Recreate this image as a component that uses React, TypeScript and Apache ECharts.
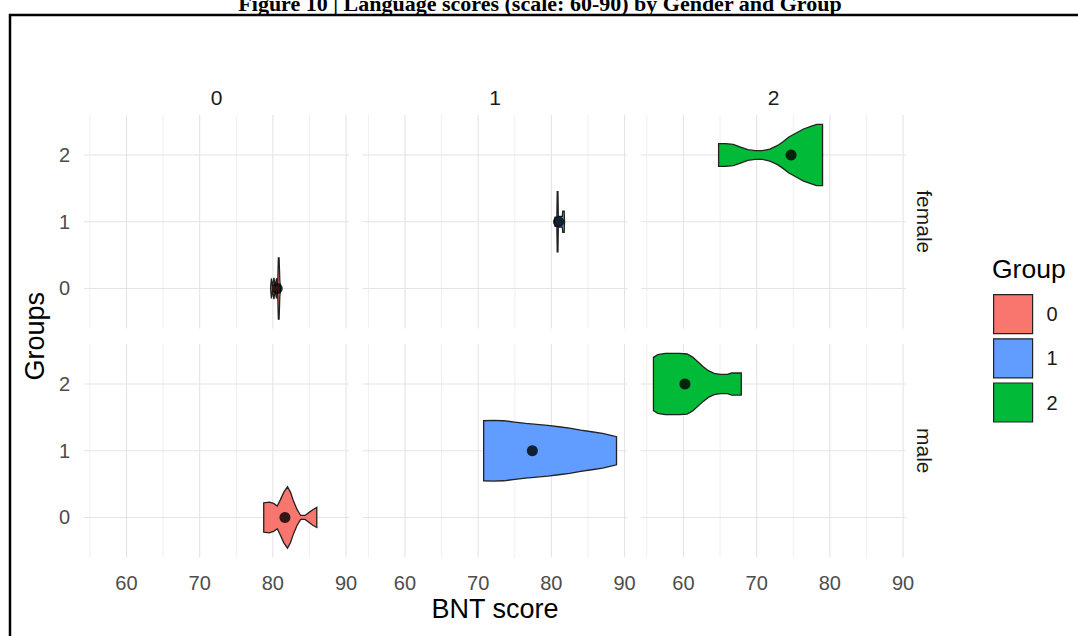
import { useEffect, useRef } from "react";
import * as echarts from "echarts";

// Facet levels and fill colours (ggplot hue palette)
const GROUPS = ["0", "1", "2"];
const SEXES = ["female", "male"];
const GROUP_COLORS = ["#F8766D", "#619CFF", "#00BA38"];

// Axis ticks
const X_TICKS = [60, 70, 80, 90];
const X_MINOR = [55, 65, 75, 85];
const Y_TICKS = [0, 1, 2];
const X_RANGE = [54.2, 90.4];
const Y_RANGE = [-0.6, 2.6];

// Violin outlines: [BNT score, half width in group units]
const femaleG0 = [
  [79.7, 0.02], [79.8, 0.15], [79.95, 0.03], [80.15, 0.16], [80.3, 0.03],
  [80.5, 0.15], [80.65, 0.04], [80.75, 0.46], [80.85, 0.46], [80.95, 0.12], [81.05, 0.0],
];
const femaleG1 = [
  [80.4, 0.02], [80.5, 0.07], [80.75, 0.07], [80.8, 0.45], [80.9, 0.45],
  [80.95, 0.08], [81.5, 0.08], [81.55, 0.16], [81.75, 0.16], [81.8, 0.0],
];
const femaleG2 = [
  [64.8, 0.17], [65.8, 0.17], [66.8, 0.16], [67.8, 0.12], [68.8, 0.08], [69.8, 0.065],
  [70.8, 0.065], [71.8, 0.09], [72.8, 0.14], [73.6, 0.2], [74.4, 0.27], [75.4, 0.33],
  [76.4, 0.39], [77.4, 0.43], [78.2, 0.46], [79.0, 0.46],
];
const maleG0 = [
  [78.75, 0.22], [79.5, 0.23], [80.1, 0.21], [80.6, 0.17], [81.0, 0.26], [81.5, 0.38],
  [82.0, 0.46], [82.4, 0.38], [82.8, 0.25], [83.3, 0.12], [83.8, 0.03], [84.4, 0.03],
  [85.0, 0.08], [85.5, 0.12], [86.0, 0.15],
];
const maleG1 = [
  [70.75, 0.45], [72, 0.455], [73.5, 0.45], [75, 0.43], [76.5, 0.41], [78, 0.395],
  [79.5, 0.38], [81, 0.36], [82.5, 0.34], [84, 0.31], [85.5, 0.285], [87, 0.26],
  [88, 0.235], [88.9, 0.21],
];
const maleG2 = [
  [55.9, 0.4], [56.5, 0.44], [57.5, 0.46], [58.5, 0.46], [59.5, 0.46], [60.5, 0.45],
  [61.3, 0.4], [62.0, 0.33], [62.7, 0.26], [63.4, 0.2], [64.2, 0.16], [65.0, 0.145],
  [66.0, 0.145], [66.6, 0.165], [67.9, 0.165],
];

// Group means of BNT score
const femaleMeans = [80.6, 81.0, 74.7];
const maleMeans = [81.65, 77.4, 60.2];

const PROFILES = [
  [femaleG0, femaleG1, femaleG2],
  [maleG0, maleG1, maleG2],
];
const MEANS = [femaleMeans, maleMeans];

const SANS = '"Liberation Sans", Arial, sans-serif';
const SERIF = '"Liberation Serif", "Times New Roman", serif';

// Panel layout (pixels)
const PANEL_LEFT = [84, 362.5, 641];
const PANEL_TOP = [115, 344];
const PANEL_W = 265;
const PANEL_H = 213.5;

function buildOption() {
  const grid: any[] = [];
  const xAxis: any[] = [];
  const yAxis: any[] = [];
  const series: any[] = [];

  SEXES.forEach((_, r) => {
    GROUPS.forEach((_, c) => {
      const idx = r * 3 + c;
      grid.push({ left: PANEL_LEFT[c], top: PANEL_TOP[r], width: PANEL_W, height: PANEL_H });
      xAxis.push({
        gridIndex: idx,
        type: "value",
        min: X_RANGE[0],
        max: X_RANGE[1],
        axisLine: { show: false },
        axisTick: { show: false },
        splitLine: { show: false },
        axisLabel: {
          show: r === 1,
          customValues: X_TICKS,
          margin: 15,
          fontSize: 20,
          color: "#4D4D4D",
          fontFamily: SANS,
        },
      });
      yAxis.push({
        gridIndex: idx,
        type: "value",
        min: Y_RANGE[0],
        max: Y_RANGE[1],
        axisLine: { show: false },
        axisTick: { show: false },
        splitLine: { show: false },
        axisLabel: {
          show: c === 0,
          customValues: Y_TICKS,
          margin: 14,
          fontSize: 20,
          color: "#4D4D4D",
          fontFamily: SANS,
        },
      });

      // panel grid lines
      const gridData = [
        ...X_MINOR.map((v) => [v, 0]),
        ...X_TICKS.map((v) => [v, 1]),
        ...Y_TICKS.map((v) => [v, 2]),
      ];
      series.push({
        type: "custom",
        name: "gridlines",
        xAxisIndex: idx,
        yAxisIndex: idx,
        silent: true,
        z: 1,
        clip: false,
        data: gridData,
        renderItem: (params: any, api: any) => {
          const cs = params.coordSys;
          const v = api.value(0);
          const kind = api.value(1);
          if (kind < 2) {
            const x = api.coord([v, 0])[0];
            return {
              type: "line",
              shape: { x1: x, y1: cs.y, x2: x, y2: cs.y + cs.height },
              style: { stroke: kind === 1 ? "#E4E4E4" : "#EDEDED", lineWidth: kind === 1 ? 1.1 : 0.9 },
            };
          }
          const y = api.coord([X_TICKS[0], v])[1];
          return {
            type: "line",
            shape: { x1: cs.x, y1: y, x2: cs.x + cs.width, y2: y },
            style: { stroke: "#E4E4E4", lineWidth: 1.1 },
          };
        },
      });

      // violin for this sex / group facet
      const profile = PROFILES[r][c];
      const g = c;
      series.push({
        type: "custom",
        name: GROUPS[c],
        xAxisIndex: idx,
        yAxisIndex: idx,
        z: 3,
        clip: false,
        itemStyle: { color: GROUP_COLORS[c] },
        data: profile.map(([s, h]) => [s, h]),
        renderItem: (params: any, api: any) => {
          if (params.dataIndex !== 0) return null;
          const upper = profile.map(([s, h]) => api.coord([s, g + h]));
          const lower = profile
            .slice()
            .reverse()
            .map(([s, h]) => api.coord([s, g - h]));
          return {
            type: "polygon",
            shape: { points: [...upper, ...lower] },
            style: { fill: GROUP_COLORS[c], stroke: "#222222", lineWidth: 1.3, lineJoin: "miter" },
          };
        },
      });

      // mean point
      series.push({
        type: "scatter",
        name: "mean",
        xAxisIndex: idx,
        yAxisIndex: idx,
        z: 5,
        symbol: "circle",
        symbolSize: 11,
        itemStyle: { color: "#000000" },
        data: [[MEANS[r][c], g]],
      });
    });
  });

  const graphic: any[] = [
    {
      type: "text",
      x: 540,
      y: 3,
      style: {
        text: "Figure 10 | Language scores (scale: 60-90) by Gender and Group",
        fontFamily: SERIF,
        fontWeight: "bold",
        fontSize: 22,
        fill: "#000",
        align: "center",
        verticalAlign: "middle",
      },
    },
    {
      type: "rect",
      silent: true,
      shape: { x: 10, y: 15, width: 1200, height: 800 },
      style: { fill: "none", stroke: "#000", lineWidth: 2.5 },
    },
    ...GROUPS.map((gname, c) => ({
      type: "text",
      x: PANEL_LEFT[c] + PANEL_W / 2,
      y: 97,
      style: {
        text: gname,
        fontFamily: SANS,
        fontSize: 21,
        fill: "#1A1A1A",
        align: "center",
        verticalAlign: "middle",
      },
    })),
    ...SEXES.map((s, r) => ({
      type: "text",
      x: 924,
      y: PANEL_TOP[r] + PANEL_H / 2,
      rotation: -Math.PI / 2,
      style: {
        text: s,
        fontFamily: SANS,
        fontSize: 21,
        fill: "#1A1A1A",
        align: "center",
        verticalAlign: "middle",
      },
    })),
    {
      type: "text",
      x: (PANEL_LEFT[0] + PANEL_LEFT[2] + PANEL_W) / 2,
      y: 609,
      style: {
        text: "BNT score",
        fontFamily: SANS,
        fontSize: 27,
        fill: "#000",
        align: "center",
        verticalAlign: "middle",
      },
    },
    {
      type: "text",
      x: 35,
      y: (PANEL_TOP[0] + PANEL_TOP[1] + PANEL_H) / 2,
      rotation: Math.PI / 2,
      style: {
        text: "Groups",
        fontFamily: SANS,
        fontSize: 27,
        fill: "#000",
        align: "center",
        verticalAlign: "middle",
      },
    },
    {
      type: "text",
      x: 992,
      y: 269,
      style: {
        text: "Group",
        fontFamily: SANS,
        fontSize: 26.5,
        fill: "#000",
        align: "left",
        verticalAlign: "middle",
      },
    },
  ];

  return {
    animation: false,
    backgroundColor: "#ffffff",
    grid,
    xAxis,
    yAxis,
    series,
    graphic,
    legend: {
      orient: "vertical",
      left: 988,
      top: 289,
      icon: "rect",
      itemWidth: 39,
      itemHeight: 39,
      itemGap: 4,
      selectedMode: false,
      textStyle: { fontSize: 20, color: "#1A1A1A", fontFamily: SANS, padding: [0, 0, 0, 9] },
      data: GROUPS.map((g, i) => ({
        name: g,
        itemStyle: { color: GROUP_COLORS[i], borderColor: "#222222", borderWidth: 1.2 },
      })),
    },
  };
}

export default function App() {
  const ref = useRef<HTMLDivElement>(null);
  useEffect(() => {
    if (!ref.current) return;
    const chart = echarts.init(ref.current, undefined, { renderer: "svg" });
    chart.setOption(buildOption() as any);
    return () => chart.dispose();
  }, []);
  return (
    <div
      ref={ref}
      style={{ position: "absolute", left: 0, top: 0, width: 1078, height: 636, background: "#fff" }}
    />
  );
}
